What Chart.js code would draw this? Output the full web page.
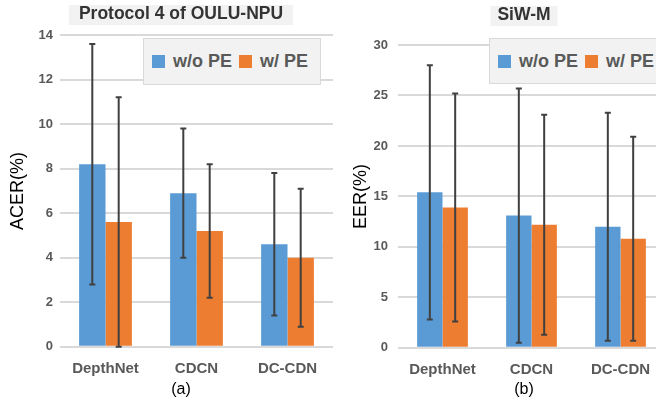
<!DOCTYPE html>
<html>
<head>
<meta charset="utf-8">
<script src="https://cdn.jsdelivr.net/npm/chart.js@4.4.1/dist/chart.umd.min.js"></script>
<style>
  html, body { margin: 0; padding: 0; background: #fff; overflow: hidden; }
  body { width: 656px; height: 402px; position: relative; font-family: "Liberation Sans", Arial, sans-serif; }
  canvas { position: absolute; top: 0; }
  .legend {
    position: absolute; box-sizing: border-box; display: flex; align-items: center;
    background: #f2f2f2; border: 1px solid #d9d9d9; padding-left: 8px;
    font-weight: bold; font-size: 18px; color: #595959; white-space: nowrap;
  }
  .legend .item { display: flex; align-items: center; margin-right: 7px; }
  .legend .sw { width: 13px; height: 13px; margin-right: 8px; }
</style>
</head>
<body>
<canvas id="chart-a" width="362" height="402" style="left:0"></canvas>
<canvas id="chart-b" width="388" height="402" style="left:330px"></canvas>
<div class="legend" id="legend-a" style="left:143px;top:38px;width:178px;height:47px"></div>
<div class="legend" id="legend-b" style="left:489px;top:38px;width:178px;height:46px"></div>
<script>
// categories and series
const methods = ['DepthNet', 'CDCN', 'DC-CDN'];
const seriesNames = ['w/o PE', 'w/ PE'];

// (a) Protocol 4 of OULU-NPU - ACER(%)
const acerWoPE = [8.2, 6.9, 4.6];
const acerWoPEErr = [5.4, 2.9, 3.2];
const acerWPE = [5.6, 5.2, 4.0];
const acerWPEErr = [5.6, 3.0, 3.1];
const acerMax = 14, acerStep = 2;

// (b) SiW-M - EER(%)
const eerWoPE = [15.4, 13.1, 12.0];
const eerWoPEErr = [12.6, 12.6, 11.3];
const eerWPE = [13.9, 12.2, 10.8];
const eerWPEErr = [11.3, 10.9, 10.1];
const eerMax = 30, eerStep = 5;

const BLUE = '#5b9bd5';
const ORANGE = '#ed7d31';
const FONT = '"Liberation Sans", Arial, sans-serif';

Chart.defaults.font.family = FONT;

// grey box behind the chart title
const titleBox = {
  id: 'titleBox',
  beforeDraw(chart, args, opts) {
    const t = chart.titleBlock;
    if (!t) return;
    const ctx = chart.ctx;
    ctx.save();
    ctx.font = 'bold 17.5px ' + FONT;
    const w = ctx.measureText(t.options.text).width + opts.padX * 2;
    const cx = (t.left + t.right) / 2;
    ctx.fillStyle = '#f2f2f2';
    ctx.fillRect(cx - w / 2, opts.top, w, opts.height);
    ctx.restore();
  }
};

// error bars, drawn from dataset.err through the y scale
const errorBars = {
  id: 'errorBars',
  afterDatasetsDraw(chart) {
    const ctx = chart.ctx;
    const y = chart.scales.y;
    ctx.save();
    ctx.strokeStyle = '#404040';
    ctx.lineWidth = 2;
    chart.data.datasets.forEach((ds, i) => {
      chart.getDatasetMeta(i).data.forEach((bar, j) => {
        const v = ds.data[j], e = ds.err[j];
        const top = y.getPixelForValue(v + e);
        const bot = y.getPixelForValue(Math.max(0, v - e));
        ctx.beginPath();
        ctx.moveTo(bar.x, top); ctx.lineTo(bar.x, bot);
        ctx.moveTo(bar.x - 3, top); ctx.lineTo(bar.x + 3, top);
        ctx.moveTo(bar.x - 3, bot); ctx.lineTo(bar.x + 3, bot);
        ctx.stroke();
      });
    });
    ctx.restore();
  }
};

function buildChart(id, p) {
  return new Chart(document.getElementById(id), {
    type: 'bar',
    data: {
      labels: methods,
      datasets: [
        { label: seriesNames[0], data: p.wo, err: p.woErr, backgroundColor: BLUE },
        { label: seriesNames[1], data: p.w, err: p.wErr, backgroundColor: ORANGE }
      ]
    },
    options: {
      responsive: false,
      animation: false,
      layout: { padding: 0 },
      datasets: { bar: { categoryPercentage: p.catPct, barPercentage: 1 } },
      scales: {
        x: {
          grid: { display: false },
          border: { display: false },
          ticks: { color: '#595959', font: { size: 15, weight: 'bold' }, padding: 5 },
          afterFit: s => { s.height = p.xHeight; }
        },
        y: {
          min: 0, max: p.max,
          ticks: { stepSize: p.step, color: '#595959', font: { size: 13, weight: 'bold' }, padding: p.tickPad },
          grid: { color: '#d9d9d9', lineWidth: 2, drawTicks: false },
          border: { display: false },
          title: { display: true, text: p.yTitle, color: '#000', font: { size: 18 }, padding: { top: p.yTitlePad, bottom: 0 } },
          afterFit: s => { s.width = p.yWidth; }
        },
        // empty right-hand axis, only reserves space so the title stays centred on the canvas
        spacer: {
          type: 'linear', position: 'right',
          grid: { display: false }, border: { display: false },
          ticks: { display: false },
          afterFit: s => { s.width = p.padRight; }
        }
      },
      plugins: {
        legend: { display: false },
        tooltip: { enabled: false },
        title: {
          display: true, text: p.title, color: '#333',
          font: { size: 17.5, weight: 'bold' },
          padding: { top: p.titleTop, bottom: p.titleBottom }
        },
        subtitle: {
          display: true, position: 'bottom', text: p.caption, color: '#000',
          font: { size: 16 }, padding: { top: 0, bottom: 3 }
        },
        titleBox: { padX: p.boxPadX, top: p.boxTop, height: 20 }
      }
    },
    plugins: [titleBox, errorBars]
  });
}

function buildLegend(el, chart) {
  chart.data.datasets.forEach(ds => {
    const item = document.createElement('span');
    item.className = 'item';
    const sw = document.createElement('span');
    sw.className = 'sw';
    sw.style.background = ds.backgroundColor;
    item.appendChild(sw);
    item.appendChild(document.createTextNode(ds.label));
    el.appendChild(item);
  });
}

const chartA = buildChart('chart-a', {
  wo: acerWoPE, woErr: acerWoPEErr, w: acerWPE, wErr: acerWPEErr,
  max: acerMax, step: acerStep,
  title: 'Protocol 4 of OULU-NPU', yTitle: 'ACER(%)', caption: '(a)',
  padRight: 29, yWidth: 60, xHeight: 33, catPct: 0.58,
  tickPad: 7, yTitlePad: 7, titleTop: 4, titleBottom: 10,
  boxPadX: 10, boxTop: 5
});

const chartB = buildChart('chart-b', {
  wo: eerWoPE, woErr: eerWoPEErr, w: eerWPE, wErr: eerWPEErr,
  max: eerMax, step: eerStep,
  title: 'SiW-M', yTitle: 'EER(%)', caption: '(b)',
  padRight: 53, yWidth: 68, xHeight: 32, catPct: 0.57,
  tickPad: 10, yTitlePad: 20, titleTop: 5, titleBottom: 19,
  boxPadX: 7, boxTop: 6
});

buildLegend(document.getElementById('legend-a'), chartA);
buildLegend(document.getElementById('legend-b'), chartB);
</script>
</body>
</html>
